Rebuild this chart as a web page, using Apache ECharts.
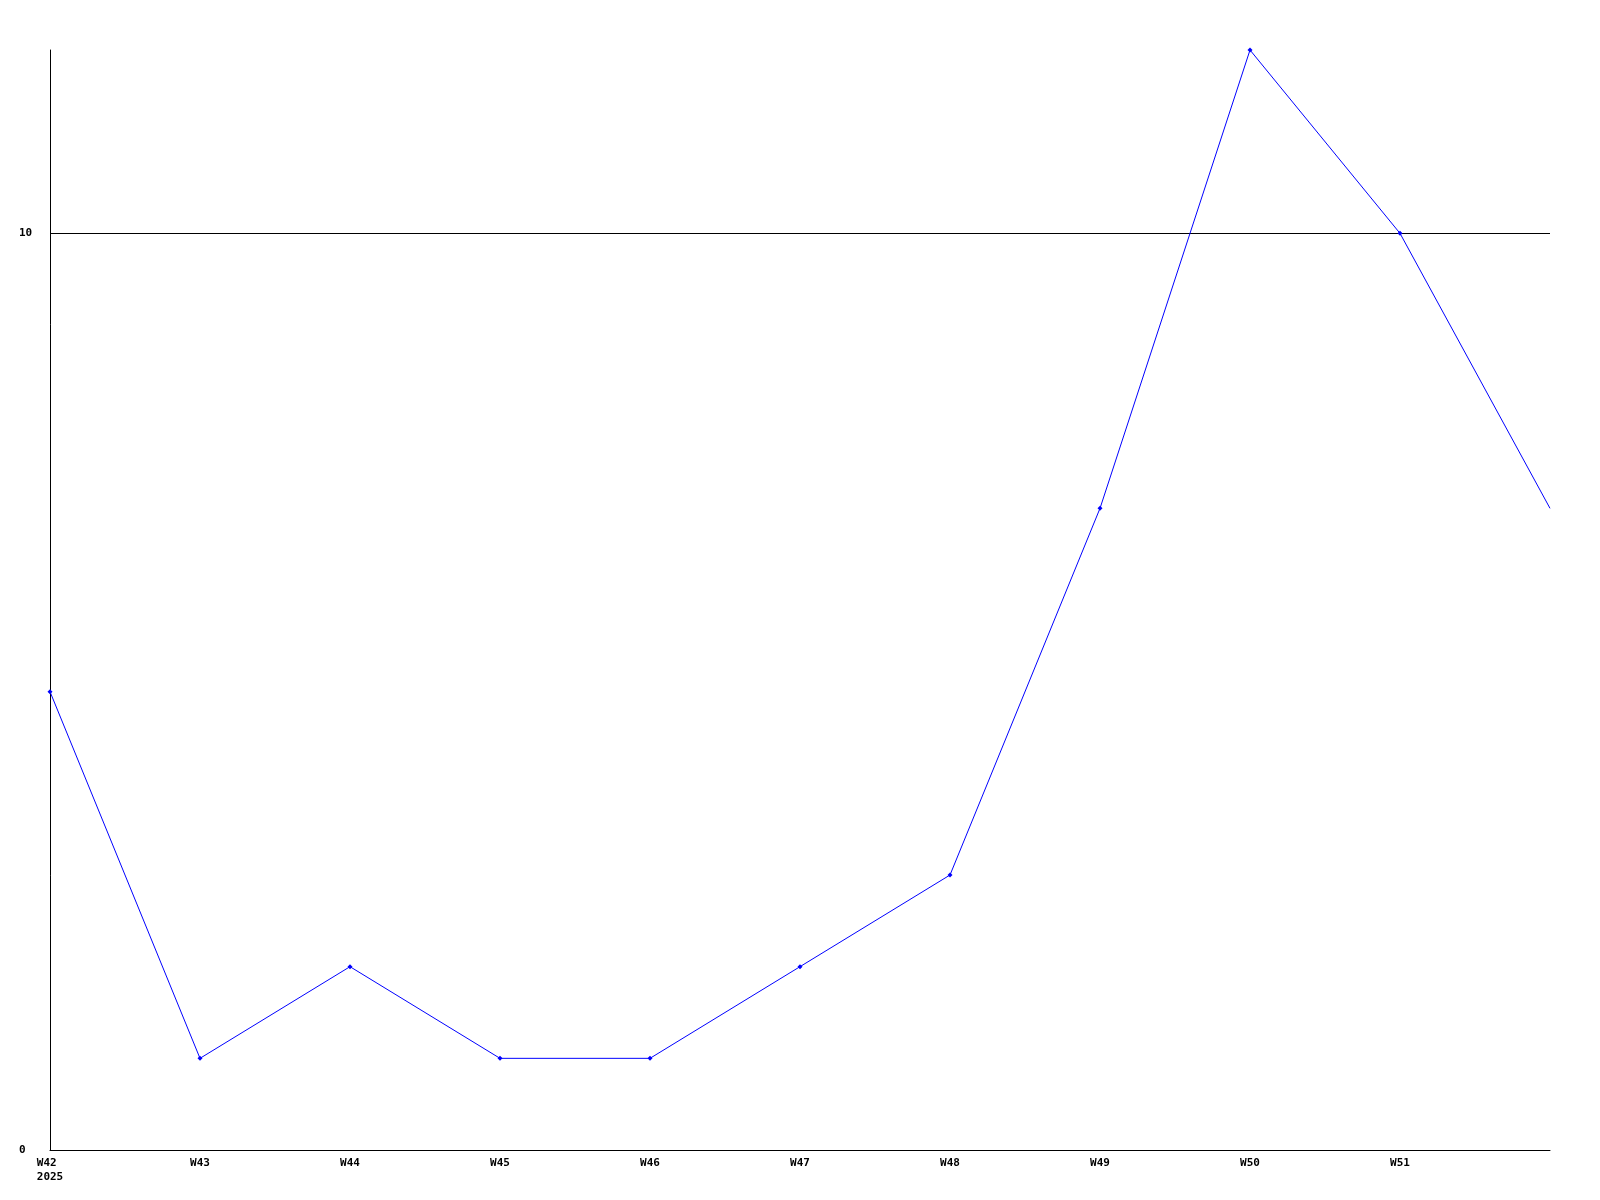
<!DOCTYPE html>
<html>
<head>
<meta charset="utf-8">
<script src="https://cdn.jsdelivr.net/npm/echarts@6/dist/echarts.min.js"></script>
<style>html,body{margin:0;padding:0;background:#fff}#c{width:1600px;height:1200px}</style>
</head>
<body>
<div id="c"></div>
<script>
var categories = ['W42\n2025','W43','W44','W45','W46','W47','W48','W49','W50','W51',''];
var values = [5, 1, 2, 1, 1, 2, 3, 7, 12, 10, 7];
var yTicks = [0, 10];

var chart = echarts.init(document.getElementById('c'), null, {renderer: 'canvas'});
var seriesData = values.map(function (v, i) {
  return i === values.length - 1 ? {value: v, symbol: 'none'} : v;
});
chart.setOption({
  animation: false,
  backgroundColor: '#ffffff',
  grid: {left: 50, right: 50, top: 50, bottom: 50, containLabel: false},
  xAxis: {
    type: 'category',
    data: categories,
    boundaryGap: false,
    axisLine: {lineStyle: {color: '#000', width: 1}},
    axisTick: {show: false},
    splitLine: {show: false},
    axisLabel: {
      interval: 0,
      color: '#000',
      fontFamily: 'DejaVu Sans Mono',
      fontWeight: 'bold',
      fontSize: 11,
      lineHeight: 14,
      margin: 6,
      formatter: function (v) {
        var parts = String(v).split('\n');
        if (parts.length > 1) {
          var w = Math.max.apply(null, parts.map(function (p) { return p.length; }));
          return parts.map(function (p) { while (p.length < w) { p += '\u00a0'; } return p; }).join('\n');
        }
        return v;
      }
    }
  },
  yAxis: {
    type: 'value',
    min: 0,
    max: 12,
    interval: 10,
    axisLine: {show: true, lineStyle: {color: '#000', width: 1}},
    axisTick: {show: false},
    splitLine: {show: true, showMaxLine: false, lineStyle: {color: ['#000', '#000', 'rgba(0,0,0,0)'], width: 1}},
    axisLabel: {
      showMaxLabel: false,
      color: '#000',
      fontFamily: 'DejaVu Sans Mono',
      fontWeight: 'bold',
      fontSize: 11,
      align: 'left',
      margin: 31,
      formatter: function (v) { return yTicks.indexOf(v) >= 0 ? String(v) : ''; }
    }
  },
  series: [{
    type: 'line',
    data: seriesData,
    symbol: 'diamond',
    symbolSize: 5,
    showSymbol: true,
    lineStyle: {color: '#0000ff', width: 1},
    itemStyle: {color: '#0000ff'}
  }]
});
</script>
</body>
</html>
